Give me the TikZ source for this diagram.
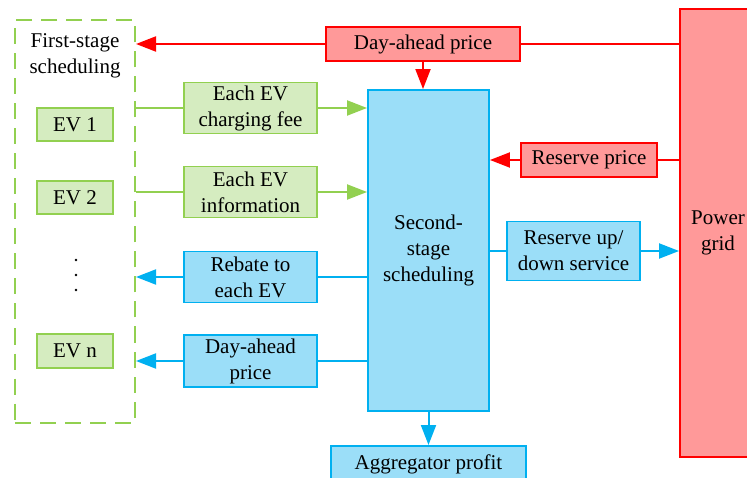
\documentclass[tikz,border=0pt]{standalone}
\usepackage{fontspec}
\setmainfont{Liberation Serif}
\usetikzlibrary{arrows.meta}
\definecolor{gline}{RGB}{146,208,80}
\definecolor{gfill}{RGB}{213,236,192}
\definecolor{bline}{RGB}{0,176,240}
\definecolor{bfill}{RGB}{155,222,248}
\definecolor{rline}{RGB}{255,0,0}
\definecolor{rfill}{RGB}{255,153,153}
\tikzset{
  txt/.style={font=\fontsize{21}{26}\selectfont, align=center, inner sep=0pt},
  gbox/.style={txt, draw=gline, fill=gfill, line width=1.9pt},
  bbox/.style={txt, draw=bline, fill=bfill, line width=1.9pt},
  rbox/.style={txt, draw=rline, fill=rfill, line width=1.9pt},
  gcon/.style={draw=gline, line width=2pt},
  bcon/.style={draw=bline, line width=2pt},
  rcon/.style={draw=rline, line width=2pt},
  gtip/.style={-{Triangle[length=20pt,width=15pt,fill=gline]}},
  btip/.style={-{Triangle[length=20pt,width=15pt,fill=bline]}},
  rtip/.style={-{Triangle[length=20pt,width=15pt,fill=rline]}},
}
\begin{document}
\begin{tikzpicture}[x=1pt,y=-1pt]
\useasboundingbox (0,0) rectangle (747,478);
\clip (0,0) rectangle (747,478);

% first-stage group
\node[draw=gline, line width=2pt, dash pattern=on 16pt off 9pt,
      minimum width=120pt, minimum height=402pt, inner sep=0pt] (fs) at (75,221.5) {};
\node[txt] (fstitle) at (75,56) {First-stage\\scheduling};
\node[gbox, minimum width=76pt, minimum height=33pt] (ev1) at (75,124.5) {EV 1};
\node[gbox, minimum width=76pt, minimum height=33pt] (ev2) at (75,197.5) {EV 2};
\node[gbox, minimum width=76pt, minimum height=34pt] (evn) at (75,351) {EV n};
\foreach \yy in {260,275,290} \fill (76,\yy) circle (1.3pt);

% exchanged quantities
\node[gbox, minimum width=133pt, minimum height=51pt] (fee) at (250.5,108) {Each EV\\charging fee};
\node[gbox, minimum width=133pt, minimum height=51pt] (info) at (250.5,192) {Each EV\\information};
\node[bbox, minimum width=133pt, minimum height=51pt] (rebate) at (250.5,277) {Rebate to\\each EV};
\node[bbox, minimum width=133pt, minimum height=52pt] (dap) at (250.5,361) {Day-ahead\\price};

% second stage
\node[bbox, minimum width=121pt, minimum height=321pt] (second) at (428.5,250.5) {Second-\\stage\\scheduling};
\node[rbox, minimum width=194pt, minimum height=34pt] (dar) at (423,44) {Day-ahead price};
\node[rbox, minimum width=136pt, minimum height=34pt] (resp) at (589,160) {Reserve price};
\node[bbox, minimum width=133pt, minimum height=59pt] (resv) at (573.5,251) {Reserve up/\\down service};
\node[bbox, minimum width=195pt, minimum height=36pt, anchor=north] (agg) at (428.5,445) {\raisebox{-3pt}{Aggregator profit}};

% power grid
\node[rbox, minimum width=76pt, minimum height=448pt] (grid) at (718,233) {Power\\grid};

% connectors
\draw[gcon] (fs.east |- fee) -- (fee.west);
\draw[gcon, gtip] (fee.east) -- (second.west |- fee);
\draw[gcon] (fs.east |- info) -- (info.west);
\draw[gcon, gtip] (info.east) -- (second.west |- info);

\draw[bcon] (second.west |- rebate) -- (rebate.east);
\draw[bcon, btip] (rebate.west) -- (fs.east |- rebate);
\draw[bcon] (second.west |- dap) -- (dap.east);
\draw[bcon, btip] (dap.west) -- (fs.east |- dap);

\draw[rcon] (grid.west |- dar) -- (dar.east);
\draw[rcon, rtip] (dar.west) -- (fs.east |- dar);
\draw[rcon, rtip] (dar.south) -- (dar.south |- second.north);
\draw[rcon] (grid.west |- resp) -- (resp.east);
\draw[rcon, rtip] (resp.west) -- (second.east |- resp);

\draw[bcon] (second.east |- resv) -- (resv.west);
\draw[bcon, btip] (resv.east) -- (grid.west |- resv);
\draw[bcon, btip] (second.south) -- (agg.north);
\end{tikzpicture}
\end{document}
